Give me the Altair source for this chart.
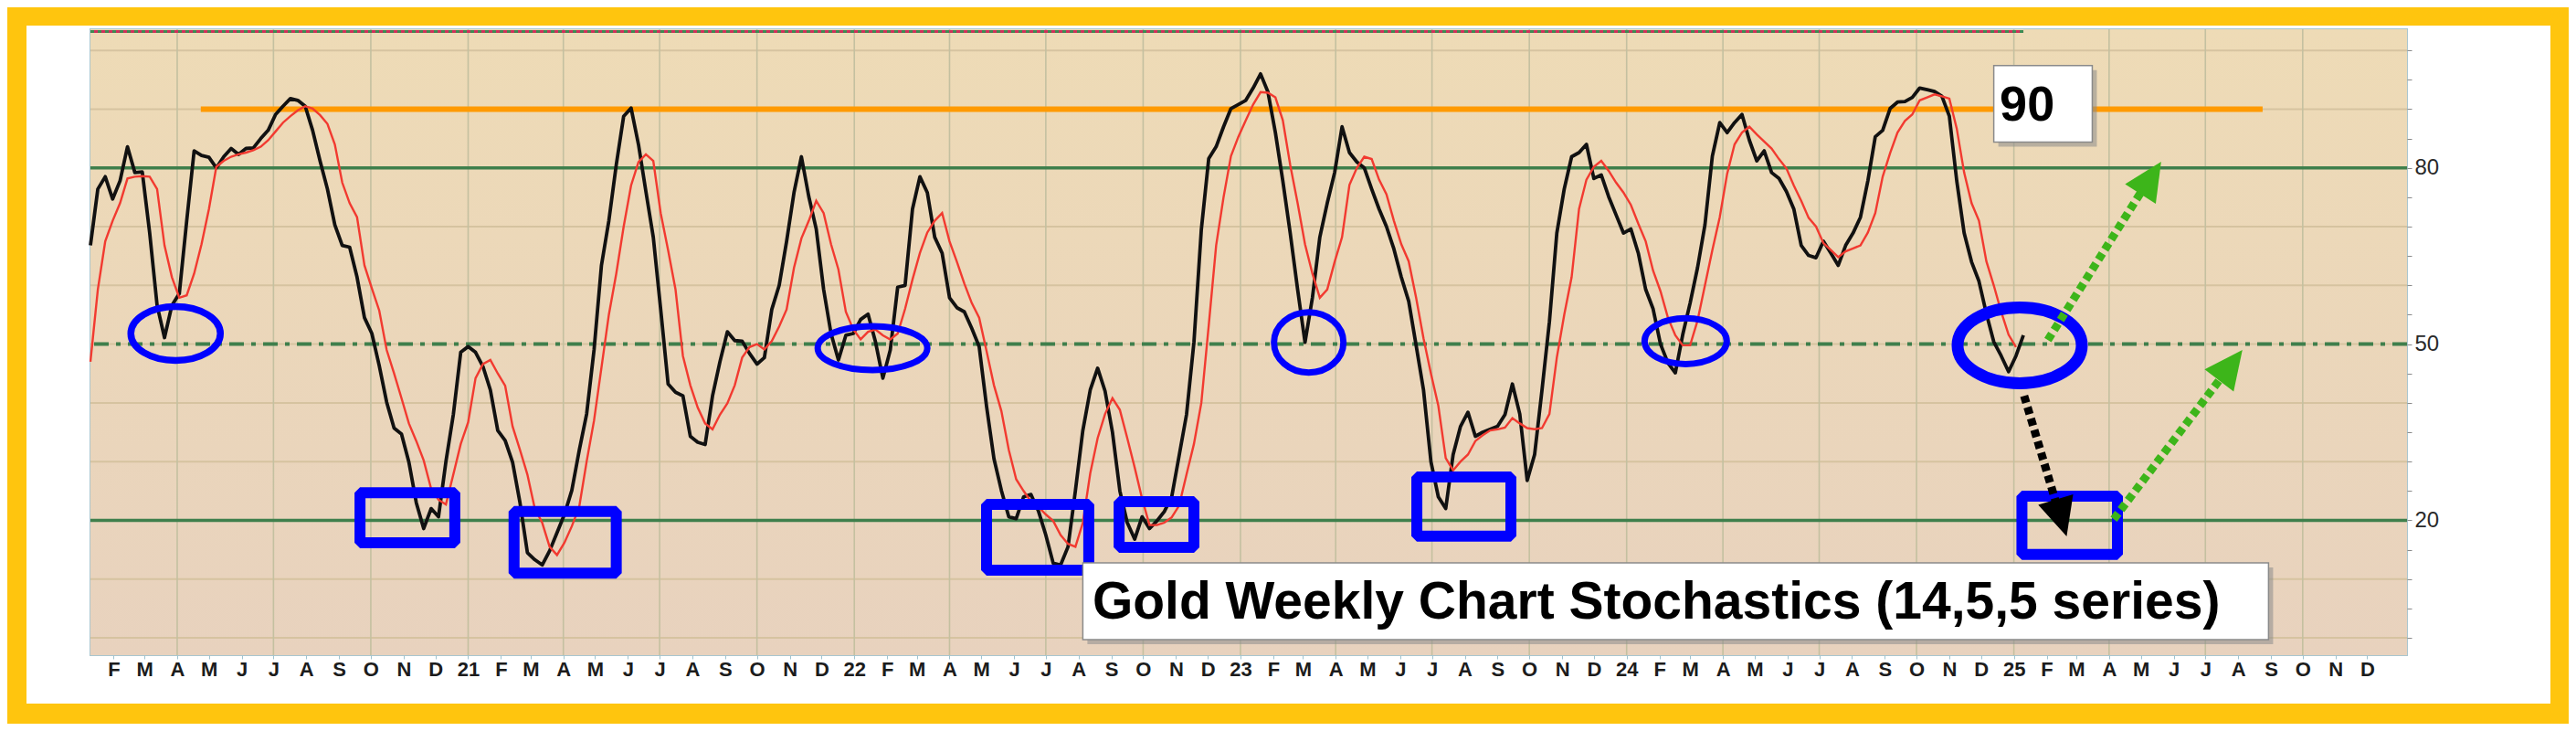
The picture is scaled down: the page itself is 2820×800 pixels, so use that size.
import altair as alt
import pandas as pd

# ---------------- data ----------------
START = pd.Timestamp("2020-01-10")   # first weekly bar

# %K (black), one value per week
k_values = [
    66.8, 76.4, 78.5, 74.7, 77.8, 83.6, 79.2, 79.3, 68.9, 56.6,
    51.1, 56.6, 58.6, 71.0, 82.9, 82.1, 81.8, 80.0, 81.9, 83.3,
    82.3, 83.3, 83.4, 85.0, 86.4, 89.1, 90.5, 91.8, 91.5, 90.5,
    86.4, 81.2, 76.4, 70.3, 66.8, 66.5, 61.4, 54.5, 51.8, 46.3,
    40.1, 35.7, 34.7, 29.9, 23.0, 18.6, 22.0, 20.6, 30.0, 38.0,
    48.6, 49.6, 48.6, 46.2, 42.2, 35.3, 33.6, 29.9, 23.0, 14.5,
    13.3, 12.4, 14.8, 17.9, 21.0, 25.1, 31.9, 38.1, 49.0, 63.4,
    71.0, 80.5, 88.8, 90.2, 84.0, 76.0, 68.2, 55.9, 43.2, 41.8,
    41.2, 34.3, 33.3, 32.9, 41.2, 47.0, 52.1, 50.6, 50.5, 48.4,
    46.6, 47.7, 55.9, 60.0, 67.5, 75.8, 81.9, 75.1, 69.6, 59.3,
    51.8, 47.3, 51.5, 51.8, 54.2, 55.1, 50.4, 44.2, 49.0, 59.7,
    60.0, 73.0, 78.5, 75.8, 68.2, 65.5, 57.9, 56.2, 55.5, 52.7,
    49.6, 39.4, 30.5, 25.1, 20.6, 20.3, 24.0, 24.4, 21.6, 17.5,
    12.7, 12.4, 15.5, 25.1, 35.3, 42.2, 45.9, 42.0, 35.0, 25.0,
    19.6, 16.8, 20.6, 18.6, 19.9, 21.5, 24.0, 31.0, 38.0, 50.3,
    69.5, 81.6, 83.6, 87.0, 90.1, 90.8, 91.5, 93.6, 96.0, 92.9,
    86.0, 77.8, 68.9, 59.3, 50.3, 57.9, 68.2, 74.0, 79.2, 87.0,
    82.6, 81.0, 80.0, 76.4, 73.0, 70.0, 66.2, 61.4, 57.3, 49.8,
    42.2, 30.0, 24.0, 22.0, 31.2, 36.0, 38.4, 34.3, 35.0, 35.5,
    36.0, 38.0, 43.2, 38.1, 26.8, 31.2, 42.2, 53.8, 68.9, 76.4,
    81.9, 82.6, 84.0, 78.2, 78.8, 75.1, 72.0, 68.9, 69.6, 65.5,
    59.3, 56.0, 50.0, 46.8, 45.1, 51.6, 57.0, 63.0, 70.3, 82.0,
    87.7, 86.0, 87.7, 89.1, 84.7, 81.2, 82.9, 79.2, 78.2, 76.0,
    73.0, 66.8, 65.1, 64.7, 67.5, 65.5, 63.4, 66.8, 68.9, 71.6,
    77.8, 85.3, 86.4, 90.1, 91.2, 91.3, 92.0, 93.6, 93.3, 93.0,
    92.2, 88.8, 77.8, 68.9, 64.0, 60.7, 55.2, 50.4, 48.0, 45.3,
    48.0, 51.5,
]

# %D (red), one value per week
d_values = [
    47.0, 59.3, 67.5, 71.0, 74.0, 78.2, 78.5, 78.6, 78.5, 76.4,
    66.8, 61.4, 57.9, 58.3, 62.0, 67.0, 73.0, 80.2, 81.2, 81.9,
    82.3, 82.6, 83.0, 83.6, 84.7, 86.2, 87.7, 88.8, 89.8, 90.5,
    90.1, 89.0, 87.5, 84.0, 77.5, 74.0, 71.6, 63.4, 59.5, 55.7,
    49.0, 45.0, 40.8, 36.5, 33.5, 30.2, 25.4, 23.5, 22.7, 27.8,
    33.0, 36.7, 44.2, 46.6, 47.3, 45.0, 42.9, 36.0, 32.0, 27.8,
    22.0, 19.6, 15.5, 14.1, 16.2, 19.0, 22.3, 30.0, 37.0, 46.0,
    55.0, 62.0, 70.0, 77.0, 81.0, 82.3, 81.2, 72.3, 66.0, 59.3,
    48.0, 43.0, 39.2, 36.5, 35.5, 38.0, 39.9, 43.0, 47.7, 49.5,
    50.0, 49.1, 50.5, 53.0, 55.9, 63.0, 68.0, 71.0, 74.4, 72.3,
    67.0, 62.7, 55.5, 52.5, 50.8, 52.1, 52.5, 51.5, 50.8, 51.8,
    56.0, 61.0, 65.5, 69.0, 71.0, 72.3, 67.5, 64.0, 60.3, 57.0,
    54.5, 48.8, 43.0, 38.6, 32.0, 27.0, 25.0, 23.2, 22.3, 21.0,
    19.9, 17.5, 16.0, 15.5, 19.6, 28.0, 34.0, 38.1, 40.8, 38.8,
    34.0, 29.0, 23.7, 19.2, 19.2, 19.6, 20.5, 22.5, 27.8, 33.0,
    40.0, 53.2, 66.8, 75.0, 82.0, 85.3, 88.1, 90.8, 92.9, 92.8,
    92.0, 88.1, 80.5, 74.0, 67.0, 62.0, 57.9, 59.3, 64.0, 68.2,
    77.1, 80.0, 81.9, 81.5, 78.0, 75.5, 71.0, 67.0, 64.1, 57.9,
    51.0, 45.0, 39.5, 30.6, 28.5, 30.0, 31.2, 33.5, 34.5, 35.3,
    35.5, 35.8, 37.4, 36.5, 35.7, 35.5, 35.7, 38.1, 47.7, 55.0,
    61.4, 73.0, 78.0, 80.2, 81.2, 79.5, 77.5, 75.8, 73.7, 70.5,
    67.5, 62.5, 59.0, 54.5, 51.5, 49.8, 49.8, 54.0, 60.0, 66.0,
    71.6, 79.0, 84.0, 86.0, 87.0, 85.7, 84.5, 83.3, 81.5, 79.9,
    77.0, 74.4, 71.5, 70.0, 67.2, 66.0, 64.8, 65.8, 66.3, 66.8,
    69.0, 72.3, 78.5, 82.5, 86.0, 88.0, 89.1, 91.5, 92.0, 92.5,
    92.2, 91.8, 86.7, 79.2, 74.0, 71.0, 64.1, 60.0, 55.5, 51.6,
    49.5,
]

# reference levels
level_green = [80, 20]
level_mid = [50]
level_orange = 90
orange_weeks = [14.9, 293.3]
grid_levels = list(range(0, 101, 10))
right_tick_values = list(range(0, 101, 5))
right_labels = [20, 50, 80]

# annotations (week index from START, stochastic value)
ell_week = [11.5, 105.6, 164.5, 215.4, 260.5]
ell_val = [51.8, 49.3, 50.3, 50.5, 49.8]

rect_w1 = [36.4, 57.2, 121.0, 138.9, 179.1, 260.8]
rect_w2 = [49.2, 71.0, 134.8, 149.0, 191.8, 273.7]
rect_v1 = [24.7, 21.5, 22.7, 23.2, 27.4, 24.1]
rect_v2 = [16.2, 11.0, 11.5, 15.4, 17.3, 14.2]

arrow_w1 = [264.3, 273.2, 261.1]
arrow_v1 = [50.7, 20.2, 41.2]
arrow_w2 = [277.1, 287.9, 265.5]
arrow_v2 = [76.3, 44.6, 22.6]
head_w = [278.2, 289.0, 266.1]
head_v = [78.3, 46.4, 20.4]

box90_w = [257.0, 270.3]
box90_v = [97.4, 84.4]
label90 = "90"
label90_pos = (257.8, 88.0)

title_text = "Gold Weekly Chart Stochastics (14,5,5 series)"
title_box_w = [134.0, 294.1]
title_box_v = [12.75, -0.3]
title_pos = (135.3, 3.3)

# ---------------- styles ----------------
ell_w_px = [98, 120, 76, 90, 136]
ell_h_px = [59, 48, 66, 50, 83]
ell_stroke = [7.5, 7, 7, 7, 13]
head_angle = [32.7, 37.3, 163.4]
arrow_colors = ["#3db51a", "#3db51a", "#000000"]

FONT = "Liberation Sans"
YELLOW = "#ffc50e"
BLUE = "#0000ff"
GREEN_LINE = "#3f7f4c"


def wk(w):
    return START + pd.Timedelta(days=7 * w)


xs = alt.Scale(domain=[alt.DateTime(year=2020, month=1, date=10),
                       alt.DateTime(year=2026, month=1, date=7, hours=14)], nice=False)
ys = alt.Scale(domain=[-2.95, 103.6], nice=False, zero=False)

month_ticks = [alt.DateTime(year=d.year, month=d.month, date=1)
               for d in pd.date_range("2020-02-01", "2025-12-01", freq="MS")]

x_axis = alt.Axis(
    values=month_ticks,
    labelExpr="month(datum.value)==0 ? timeFormat(datum.value,'%y') : substring(timeFormat(datum.value,'%b'),0,1)",
    grid=False, domain=False, ticks=True, tickSize=4, tickColor="#9ec3cf", labelPadding=1,
    labelFont=FONT, labelFontSize=22, labelFontWeight="bold", labelColor="#1c1c1c",
    labelOverlap=False, labelFlush=False, title="", zindex=1)
y_axis = alt.Axis(
    orient="right", values=right_tick_values,
    labelExpr="indexof([%s], datum.value) >= 0 ? datum.value : ''" % ",".join(str(v) for v in right_labels),
    grid=False, domain=False, ticks=True, tickSize=5, tickColor="#8a8a8a", labelPadding=3,
    labelFont=FONT, labelFontSize=24, labelColor="#2a2a2a", title="", zindex=1)


def X(f):
    return alt.X(f"{f}:T", scale=xs, axis=x_axis)


def Y(f):
    return alt.Y(f"{f}:Q", scale=ys, axis=y_axis)


k_df = pd.DataFrame({"date": [wk(i) for i in range(len(k_values))], "v": k_values})
d_df = pd.DataFrame({"date": [wk(i) for i in range(len(d_values))], "v": d_values})

layers = []

# plot background gradient
layers.append(alt.Chart(pd.DataFrame({"a": [0]})).mark_rect(
    fill=alt.LinearGradient(gradient="linear", x1=0, y1=0, x2=0, y2=1,
                            stops=[alt.GradientStop(offset=0, color="#eedbb6"),
                                   alt.GradientStop(offset=1, color="#e8d2be")])).encode(
    x=alt.value(0), x2=alt.value(2536), y=alt.value(0), y2=alt.value(685)))

# horizontal grid
layers.append(alt.Chart(pd.DataFrame({"v": grid_levels})).mark_rule(
    color="#d6c3a0", strokeWidth=2).encode(y=Y("v")))
# vertical quarterly grid
qdates = pd.date_range("2020-04-01", "2025-10-01", freq="QS")
layers.append(alt.Chart(pd.DataFrame({"d": qdates})).mark_rule(
    color="#c4c0a0", strokeWidth=1.6).encode(x=X("d")))

# top dotted strip
strip = pd.DataFrame({"d1": [wk(0)], "d2": [wk(len(k_values) - 1)], "v": [103.2]})
layers.append(alt.Chart(strip).mark_rule(color="#3e8a52", strokeWidth=3, strokeDash=[4, 4]).encode(
    x=X("d1"), x2="d2:T", y=Y("v")))
layers.append(alt.Chart(strip).mark_rule(color="#d0305a", strokeWidth=3, strokeDash=[4, 4],
                                         strokeDashOffset=4).encode(x=X("d1"), x2="d2:T", y=Y("v")))

# level lines
layers.append(alt.Chart(pd.DataFrame({"v": level_green})).mark_rule(
    color=GREEN_LINE, strokeWidth=3.5).encode(y=Y("v")))
layers.append(alt.Chart(pd.DataFrame({"v": level_mid})).mark_rule(
    color=GREEN_LINE, strokeWidth=4, strokeDash=[16, 8, 5, 8]).encode(y=Y("v")))
layers.append(alt.Chart(pd.DataFrame({"d1": [wk(orange_weeks[0])], "d2": [wk(orange_weeks[1])],
                                      "v": [level_orange]})).mark_rule(
    color="#ff9a00", strokeWidth=6).encode(x=X("d1"), x2="d2:T", y=Y("v")))

# stochastic lines
layers.append(alt.Chart(k_df).mark_line(color="#111111", strokeWidth=3.8, strokeJoin="round").encode(
    x=X("date"), y=Y("v")))
layers.append(alt.Chart(d_df).mark_line(color="#f23a30", strokeWidth=2.4).encode(
    x=X("date"), y=Y("v")))

# blue rectangles
rect_df = pd.DataFrame({"d1": [wk(w) for w in rect_w1], "d2": [wk(w) for w in rect_w2],
                        "v1": rect_v1, "v2": rect_v2})
layers.append(alt.Chart(rect_df).mark_rect(filled=False, stroke=BLUE, strokeWidth=12,
                                           strokeJoin="bevel").encode(
    x=X("d1"), x2="d2:T", y=Y("v1"), y2="v2:Q"))

# blue ellipses
c = 0.5523
for i in range(len(ell_week)):
    k = ell_h_px[i] / ell_w_px[i]
    path = (f"M 1 0 C 1 {c*k:.4f} {c} {k:.4f} 0 {k:.4f} C {-c} {k:.4f} -1 {c*k:.4f} -1 0 "
            f"C -1 {-c*k:.4f} {-c} {-k:.4f} 0 {-k:.4f} C {c} {-k:.4f} 1 {-c*k:.4f} 1 0 Z")
    layers.append(alt.Chart(pd.DataFrame({"d": [wk(ell_week[i])], "v": [ell_val[i]]})).mark_point(
        shape=path, filled=False, stroke=BLUE, strokeWidth=ell_stroke[i], size=ell_w_px[i] ** 2,
        opacity=1).encode(x=X("d"), y=Y("v")))

# arrows
for i in range(len(arrow_w1)):
    a_df = pd.DataFrame({"d1": [wk(arrow_w1[i])], "d2": [wk(arrow_w2[i])],
                         "v1": [arrow_v1[i]], "v2": [arrow_v2[i]]})
    layers.append(alt.Chart(a_df).mark_rule(color=arrow_colors[i], strokeWidth=9,
                                            strokeDash=[8, 5], strokeCap="butt").encode(
        x=X("d1"), x2="d2:T", y=Y("v1"), y2="v2:Q"))
    layers.append(alt.Chart(pd.DataFrame({"d": [wk(head_w[i])], "v": [head_v[i]]})).mark_point(
        shape="M 0 -1 L 0.95 1 L -0.95 1 Z", filled=True, fill=arrow_colors[i],
        size=1764, angle=head_angle[i], opacity=1).encode(x=X("d"), y=Y("v")))

# boxes with shadow
for bw, bv in [(box90_w, box90_v), (title_box_w, title_box_v)]:
    b_df = pd.DataFrame({"d1": [wk(bw[0])], "d2": [wk(bw[1])], "v1": [bv[0]], "v2": [bv[1]]})
    layers.append(alt.Chart(b_df).mark_rect(color="#8c8c8c", opacity=0.55, xOffset=5, yOffset=5,
                                            x2Offset=5, y2Offset=5).encode(
        x=X("d1"), x2="d2:T", y=Y("v1"), y2="v2:Q"))
    layers.append(alt.Chart(b_df).mark_rect(fill="white", stroke="#8a8a8a", strokeWidth=1.5).encode(
        x=X("d1"), x2="d2:T", y=Y("v1"), y2="v2:Q"))

layers.append(alt.Chart(pd.DataFrame({"d": [wk(label90_pos[0])], "v": [label90_pos[1]],
                                      "t": [label90]})).mark_text(
    align="left", baseline="alphabetic", font=FONT, fontSize=54, fontWeight="bold",
    color="#000000").encode(x=X("d"), y=Y("v"), text="t:N"))
layers.append(alt.Chart(pd.DataFrame({"d": [wk(title_pos[0])], "v": [title_pos[1]],
                                      "t": [title_text]})).mark_text(
    align="left", baseline="alphabetic", font=FONT, fontSize=57, fontWeight="bold",
    color="#000000").encode(x=X("d"), y=Y("v"), text="t:N"))

# yellow frame around the white panel
layers.append(alt.Chart(pd.DataFrame({"a": [0]})).mark_rect(
    filled=False, stroke=YELLOW, strokeWidth=22).encode(
    x=alt.value(-81), x2=alt.value(2704), y=alt.value(-15), y2=alt.value(749)))

chart = alt.layer(*layers).properties(
    width=2536, height=685,
    padding={"left": 91, "top": 24, "right": 177, "bottom": 75},
    autosize=alt.AutoSizeParams(type="none"),
    background="white",
).configure_view(fill=None, stroke="#a9c6cf", strokeWidth=2)

chart.save("out.html", embed_options={"renderer": "svg", "actions": False})
